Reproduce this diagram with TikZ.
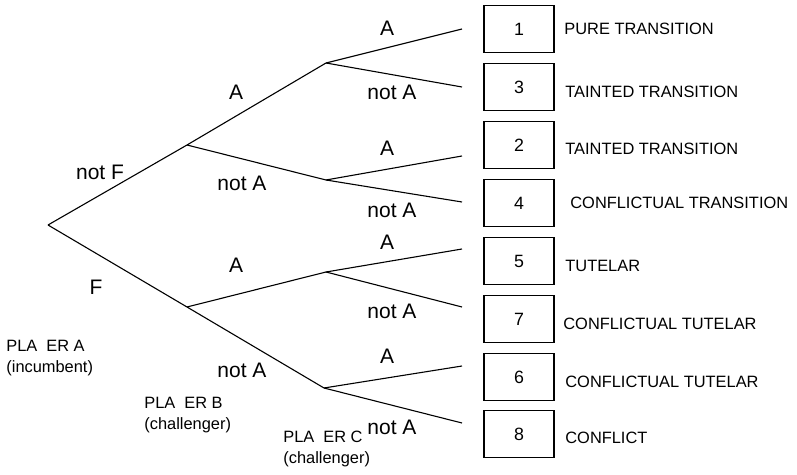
\documentclass[tikz,border=0pt]{standalone}
\usepackage{fontspec}
\setmainfont{Liberation Sans}

\begin{document}
\begin{tikzpicture}[x=0.5pt,y=-0.5pt,
  branch/.style={line width=0.55pt},
  move/.style={inner sep=0pt, font=\fontsize{10.5}{12}\selectfont},
  outcome/.style={draw, line width=0.55pt, minimum width=35pt, minimum height=23.5pt, inner sep=0pt, font=\fontsize{8.9}{10}\selectfont},
  result/.style={anchor=west, inner sep=0pt, font=\fontsize{8.2}{10}\selectfont},
  player/.style={anchor=north west, align=left, inner sep=0pt, font=\fontsize{8.2}{10.5}\selectfont},
]
\useasboundingbox (0,0) rectangle (797,475);

% decision points
\coordinate (root) at (48,225);
\coordinate (nf) at (187,145);
\coordinate (f) at (187,307);
\coordinate (nfa) at (326,63);
\coordinate (nfn) at (326,180);
\coordinate (fa) at (326,272);
\coordinate (fn) at (324,388);
% ends of the last moves
\foreach \i/\y in {1/29,3/87,2/156,4/202,5/249,7/307,6/366,8/423}
  \coordinate (end\i) at (462,\y);

% player A
\draw[branch] (root) -- (nf);
\draw[branch] (root) -- (f);
% player B
\draw[branch] (nf) -- (nfa);
\draw[branch] (nf) -- (nfn);
\draw[branch] (f) -- (fa);
\draw[branch] (f) -- (fn);
% player C
\draw[branch] (nfa) -- (end1);
\draw[branch] (nfa) -- (end3);
\draw[branch] (nfn) -- (end2);
\draw[branch] (nfn) -- (end4);
\draw[branch] (fa) -- (end5);
\draw[branch] (fa) -- (end7);
\draw[branch] (fn) -- (end6);
\draw[branch] (fn) -- (end8);

% moves
\node[move] (m-nf) at (100,172) {not F};
\node[move] (m-f) at (96,287) {F};
\node[move] (m-nfa) at (236,92) {A};
\node[move] (m-nfn) at (242,183) {not A};
\node[move] (m-fa) at (236,265) {A};
\node[move] (m-fn) at (242,370) {not A};
\node[move] (m-1) at (387,28) {A};
\node[move] (m-3) at (392,92) {not A};
\node[move] (m-2) at (387,148) {A};
\node[move] (m-4) at (392,210) {not A};
\node[move] (m-5) at (387,242) {A};
\node[move] (m-7) at (392,311) {not A};
\node[move] (m-6) at (387,356) {A};
\node[move] (m-8) at (392,427) {not A};

% outcomes
\foreach \n/\y/\lx/\ly/\txt in {
  1/29/564/29/PURE TRANSITION,
  3/87/565/92/TAINTED TRANSITION,
  2/145/565/149/TAINTED TRANSITION,
  4/203/570/203/CONFLICTUAL TRANSITION,
  5/261/565/266/TUTELAR,
  7/319/563/324/CONFLICTUAL TUTELAR,
  6/377/565/382/CONFLICTUAL TUTELAR,
  8/434/565/438/CONFLICT}
{
  \node[outcome] (out\n) at (519,\y) {\n};
  \node[result] (res\n) at (\lx,\ly) {\txt};
}

% players
\node[player] (pla) at (6,340) {PLA\hspace{0.55em}ER A\\(incumbent)};
\node[player] (plb) at (144,397) {PLA\hspace{0.55em}ER B\\(challenger)};
\node[player] (plc) at (283,431) {PLA\hspace{0.55em}ER C\\(challenger)};

\end{tikzpicture}
\end{document}
